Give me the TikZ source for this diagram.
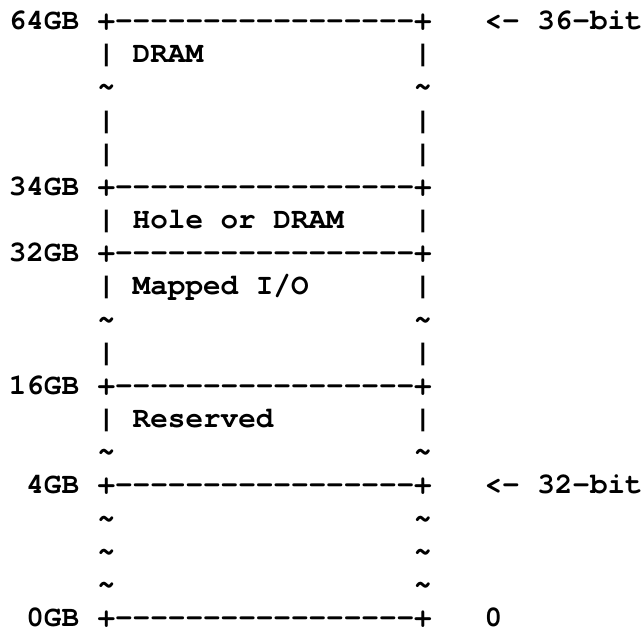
\documentclass[tikz,border=0pt]{standalone}
\usepackage{fontspec}
\setmonofont{TeX Gyre Cursor}
\usepackage{tikz}

\begin{document}
\begin{tikzpicture}[
  x=8.795pt, y=-16.585pt,
  txt/.style={font=\ttfamily\bfseries\fontsize{14.66pt}{16pt}\selectfont,
              inner sep=0pt, anchor=base west},
  addr/.style={txt, anchor=base east},
  border/.style={txt},
  side/.style={txt}
]
\useasboundingbox (-0.523,-0.889) rectangle (36.09,18.10);

%% Addresses
\node[addr] (a64) at (4,0)  {64GB};
\node[addr] (a34) at (4,5)  {34GB};
\node[addr] (a32) at (4,7)  {32GB};
\node[addr] (a16) at (4,11) {16GB};
\node[addr] (a4)  at (4,14) {4GB};
\node[addr] (a0)  at (4,18) {0GB};

%% Boundaries
\foreach \r/\n in {0/b64,5/b34,7/b32,11/b16,14/b4,18/b0}
  \node[border] (\n) at (5,\r) {+-----------------+};

%% Sides of the map
\foreach \r/\c in {1/|,2/\textasciitilde,3/|,4/|,6/|,8/|,9/\textasciitilde,
                   10/|,12/|,13/\textasciitilde,15/\textasciitilde,
                   16/\textasciitilde,17/\textasciitilde}{
  \node[side] (l\r) at (5,\r)  {\c};
  \node[side] (r\r) at (23,\r) {\c};
}

%% Regions
\node[txt] (dram) at (7,1)  {DRAM};
\node[txt] (hole) at (7,6)  {Hole or DRAM};
\node[txt] (mmio) at (7,8)  {Mapped I/O};
\node[txt] (resv) at (7,12) {Reserved};

%% Limits
\node[txt] (lim36) at (27,0)  {<- 36-bit};
\node[txt] (lim32) at (27,14) {<- 32-bit};
\node[txt] (zero)  at (27,18) {0};

\end{tikzpicture}
\end{document}
